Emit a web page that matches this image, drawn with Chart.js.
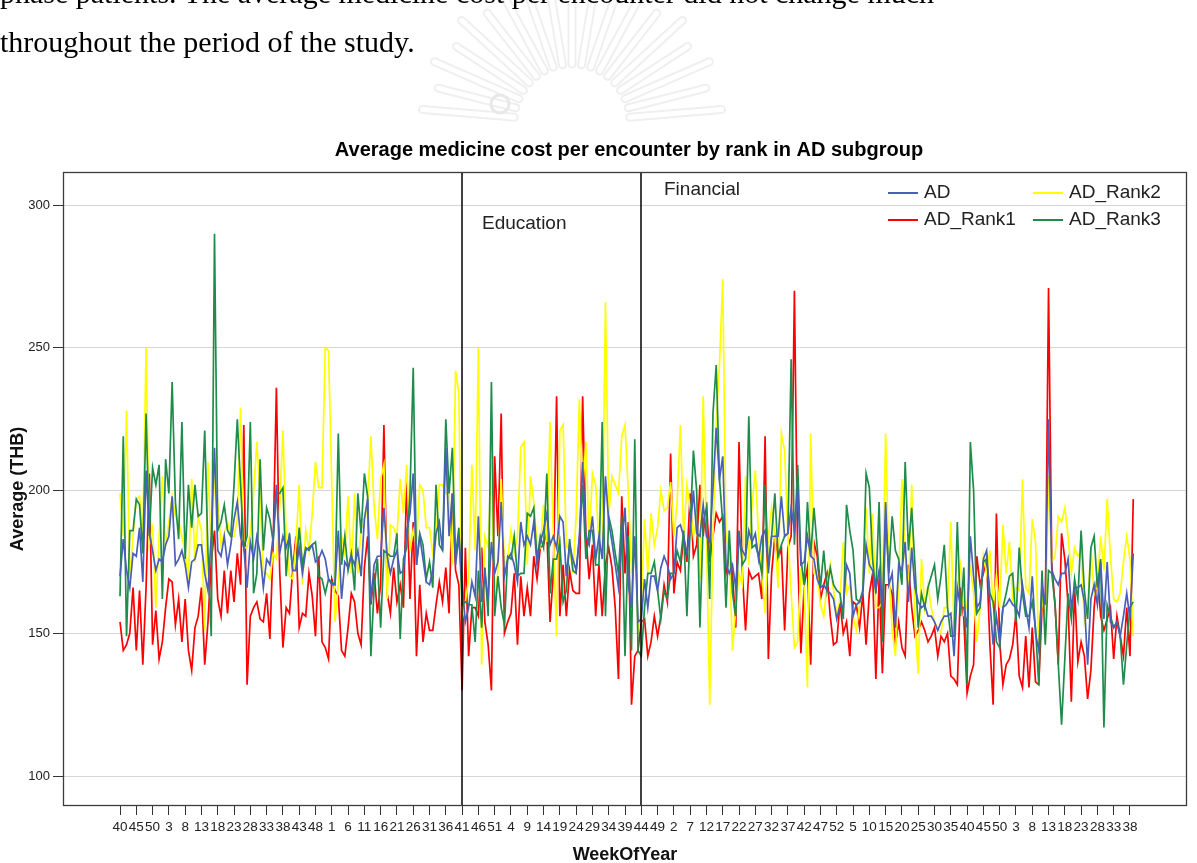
<!DOCTYPE html>
<html>
<head>
<meta charset="utf-8">
<script src="https://cdn.jsdelivr.net/npm/chart.js@4.4.1/dist/chart.umd.min.js"></script>
<style>
  html, body { margin:0; padding:0; background:#fff; width:1197px; height:863px; overflow:hidden; }
  #wrap { position:relative; width:1197px; height:863px; }
  #wm { position:absolute; left:0; top:0; z-index:0; }
  canvas { position:absolute; left:0; top:0; z-index:1; }
  .doc { position:absolute; left:0; z-index:2; font-family:"Liberation Serif","Times New Roman",serif;
         font-size:30px; line-height:30px; color:#000; white-space:nowrap; }
</style>
</head>
<body>
<div id="wrap">
  <svg id="wm" width="1197" height="140" viewBox="0 0 1197 140"></svg>
  <div class="doc" style="top:-22px;">phase patients. The average medicine cost per encounter did not change much</div>
  <div class="doc" style="top:27px;">throughout the period of the study.</div>
  <canvas id="c" width="1197" height="863"></canvas>
</div>
<script>
// ---------------- data ----------------
const tickLabels = [40,45,50,3,8,13,18,23,28,33,38,43,48,1,6,11,16,21,26,31,36,41,46,51,4,9,14,19,24,29,34,39,44,49,2,7,12,17,22,27,32,37,42,47,52,5,10,15,20,25,30,35,40,45,50,3,8,13,18,23,28,33,38];
const yTicks = [100,150,200,250,300];
const seriesNames = ['AD','AD_Rank1','AD_Rank2','AD_Rank3'];

const AD = [
170,183,172,166,178,177,187,168,207,185,179,172,176,175,181,184,198,174,176,179,174,166,175,176,181,181,171,165,184,215,179,177,184,174,181,190,196,184,180,166,182,176,184,178,166,176,174,184,202,178,184,180,
184,172,172,180,171,179,180,181,175,176,179,176,169,167,167,186,162,175,173,177,174,179,170,190,197,161,174,177,177,194,177,171,176,179,171,172,186,192,206,174,184,176,168,167,172,185,189,179,215,184,199,174,
184,167,154,159,168,163,191,161,171,162,182,171,175,196,170,176,178,174,168,189,181,184,181,189,174,182,186,192,181,184,180,191,189,170,181,176,172,184,210,184,181,191,176,184,176,205,189,182,174,166,182,194,167,
159,184,154,155,169,159,170,170,165,173,177,174,169,171,187,188,184,178,186,200,185,184,195,184,182,201,222,204,212,174,171,174,166,184,179,177,186,182,185,176,184,186,174,184,184,184,198,184,185,194,186,201,174,
175,184,177,176,169,166,167,165,164,162,155,160,159,174,171,156,160,161,164,181,174,172,165,172,159,196,167,171,152,174,172,182,161,180,166,161,159,160,156,156,154,151,154,156,156,157,142,166,159,159,152,184,
170,159,161,176,179,161,146,156,147,159,160,162,160,159,156,167,159,152,170,150,144,167,160,225,172,169,167,171,171,176,159,166,166,167,161,139,162,167,160,175,155,175,154,152,154,149,156,164,155,178];

const AD_Rank1 = [
154,144,146,150,166,144,165,139,166,206,146,158,141,147,159,169,168,153,162,147,162,144,137,152,156,166,139,154,175,186,162,156,172,157,172,161,178,167,223,132,156,159,161,155,154,164,148,181,236,172,145,159,
157,172,184,152,157,156,171,163,149,177,147,145,141,169,165,163,144,142,152,164,161,150,146,173,184,160,171,157,167,223,164,157,173,161,167,159,204,162,189,142,167,147,157,151,151,160,168,161,173,157,199,172,
167,130,180,142,159,159,156,180,154,146,130,212,184,227,150,154,157,171,146,170,156,166,156,177,169,180,181,186,154,171,233,156,174,156,172,165,164,164,233,184,169,181,156,174,156,174,180,173,159,134,198,171,189,
125,142,144,154,155,142,147,156,149,156,167,161,213,164,175,172,184,175,199,177,181,202,184,196,175,184,192,189,191,171,177,171,152,217,172,151,172,169,170,171,162,219,141,171,184,176,180,151,180,184,270,177,143,
167,173,139,182,177,162,167,171,156,146,147,161,150,154,142,161,160,152,164,146,164,171,134,169,136,167,167,164,146,154,145,142,174,159,149,151,154,151,147,149,152,142,149,147,150,135,134,132,166,155,129,135,
139,177,167,171,176,146,125,192,147,132,139,141,146,157,135,131,149,131,152,133,132,159,157,271,174,160,139,185,176,160,126,166,140,147,142,127,137,159,171,156,151,155,159,141,156,149,142,159,142,197];

const AD_Rank2 = [
199,184,228,169,184,197,198,184,250,181,187,159,184,205,181,189,198,191,189,184,178,169,204,175,191,186,151,210,177,205,196,181,185,189,184,184,190,229,180,180,185,199,217,198,171,171,169,178,176,194,221,184,
170,169,181,202,167,186,179,192,210,201,201,250,249,202,154,167,184,178,198,171,199,171,187,188,196,219,194,183,204,209,162,188,187,184,204,192,209,179,186,181,202,200,187,187,178,184,202,202,199,199,174,242,
234,155,161,169,209,179,250,139,184,180,210,159,172,204,174,176,186,178,184,215,217,174,205,196,181,180,195,182,224,184,149,221,223,180,181,171,191,232,200,217,182,206,202,182,178,266,191,205,202,199,219,223,200,
171,184,150,159,190,171,192,181,187,200,193,194,203,184,196,223,184,202,194,184,190,169,233,184,125,184,224,244,274,184,179,144,159,171,167,205,174,195,207,184,171,157,184,194,184,166,220,214,184,164,145,147,171,
166,131,220,171,171,160,156,167,174,165,156,162,182,164,167,156,151,160,166,194,171,192,159,159,161,220,172,151,142,167,204,177,164,202,154,136,176,159,167,159,154,152,150,159,159,189,151,166,174,157,160,174,
164,147,159,177,171,179,159,170,159,188,171,182,162,166,165,204,166,164,190,182,146,165,149,205,175,177,191,189,194,184,171,180,177,179,154,159,180,164,167,184,172,197,177,162,161,164,175,184,176,149];

const AD_Rank3 = [
163,219,149,186,186,197,195,178,227,184,208,202,209,162,211,199,238,196,183,224,176,202,187,202,191,192,221,178,149,290,186,189,195,186,184,202,225,202,180,184,224,164,171,211,179,194,190,182,199,199,201,170,
185,172,172,187,174,180,179,181,182,170,169,164,169,168,167,220,174,184,172,178,165,199,185,206,198,142,166,176,152,179,178,177,177,185,148,176,180,199,243,174,185,181,169,175,166,202,181,179,225,199,215,177,
187,160,161,160,160,147,172,152,173,156,238,156,170,159,153,177,176,184,170,171,171,192,191,194,176,184,180,206,164,176,176,182,161,165,183,172,171,183,202,176,186,186,174,174,224,156,191,186,178,171,191,142,184,
144,218,144,142,159,171,171,175,165,155,165,162,171,171,179,175,186,156,187,214,200,152,189,194,162,227,244,204,189,159,186,164,156,186,174,176,226,180,181,177,171,202,171,184,199,177,181,184,185,246,181,209,176,
167,196,177,194,180,166,179,165,173,167,165,164,155,195,186,179,162,161,165,206,201,176,164,196,147,190,171,191,179,176,167,210,179,194,174,152,164,159,166,170,174,162,170,181,159,149,149,189,156,173,132,217,
200,157,159,175,176,164,161,147,145,159,164,170,171,154,180,164,156,156,161,152,132,172,146,172,171,160,139,118,141,164,155,169,162,186,165,155,180,184,166,176,117,160,156,152,154,149,132,146,159,161];

// policy events: position on the week index axis
const eventNames = ['Education','Financial'];
const eventWeekIndex = [105, 160];

// ---------------- styles ----------------
const FONT = '"Liberation Sans", Arial, Helvetica, sans-serif';
const colors = ['#4a5fb8', '#ff0000', '#ffff00', '#1f8c4b'];
const drawOrder = [1, 4, 3, 2];   // higher = drawn first (underneath)
const eventLabelStyle = [{dx: 20, y: 224}, {dx: 23, y: 190}];
const legendSlots = [{x: 888, y: 193}, {x: 888, y: 220}, {x: 1033, y: 193}, {x: 1033, y: 220}];

// watermark (decorative emblem behind the page text)
(function drawWatermark(){
  const svg = document.getElementById('wm');
  const cx = 572, cy = 122;
  let s = '';
  for (let k = 0; k < 19; k++) {
    const ang = Math.PI + (k + 0.5) * Math.PI / 19;
    const r1 = 58, r2 = 150 - (k % 2) * 12;
    const x1 = cx + r1 * Math.cos(ang), y1 = cy + r1 * Math.sin(ang);
    const x2 = cx + r2 * Math.cos(ang), y2 = cy + r2 * Math.sin(ang);
    s += `<line x1="${x1.toFixed(1)}" y1="${y1.toFixed(1)}" x2="${x2.toFixed(1)}" y2="${y2.toFixed(1)}" stroke="#efefef" stroke-width="9" stroke-linecap="round"/>`;
    s += `<line x1="${x1.toFixed(1)}" y1="${y1.toFixed(1)}" x2="${x2.toFixed(1)}" y2="${y2.toFixed(1)}" stroke="#fff" stroke-width="5" stroke-linecap="round"/>`;
  }
  s += `<circle cx="500" cy="104" r="9" fill="none" stroke="#e8e8e8" stroke-width="3"/>`;
  svg.innerHTML = s;
})();

const series = [AD, AD_Rank1, AD_Rank2, AD_Rank3];

const decor = {
  id: 'decor',
  afterDatasetsDraw(chart) {
    const {ctx, chartArea: a, scales: {x}} = chart;
    ctx.save();
    eventWeekIndex.forEach((w, k) => {
      const px = Math.round(x.getPixelForValue(w));
      ctx.strokeStyle = '#000';
      ctx.lineWidth = 1.5;
      ctx.beginPath(); ctx.moveTo(px, a.top); ctx.lineTo(px, a.bottom); ctx.stroke();
      ctx.fillStyle = '#222';
      ctx.font = '19px ' + FONT;
      ctx.textAlign = 'left'; ctx.textBaseline = 'middle';
      ctx.fillText(eventNames[k], px + eventLabelStyle[k].dx, eventLabelStyle[k].y);
    });
    ctx.strokeStyle = '#3c3c3c'; ctx.lineWidth = 1.3;
    ctx.strokeRect(a.left + 0.5, a.top + 0.5, a.right - a.left - 1, a.bottom - a.top - 1);
    ctx.font = '19px ' + FONT;
    ctx.textAlign = 'left'; ctx.textBaseline = 'middle';
    chart.data.datasets.forEach((ds, k) => {
      const s = legendSlots[k];
      ctx.strokeStyle = ds.borderColor; ctx.lineWidth = 2;
      ctx.beginPath(); ctx.moveTo(s.x, s.y); ctx.lineTo(s.x + 30, s.y); ctx.stroke();
      ctx.fillStyle = '#222';
      ctx.fillText(ds.label, s.x + 36, s.y);
    });
    ctx.restore();
  },
  afterDraw(chart) {
    const {ctx, chartArea: a} = chart;
    ctx.save();
    ctx.font = 'bold 20px ' + FONT;
    ctx.fillStyle = '#000';
    ctx.textAlign = 'center'; ctx.textBaseline = 'middle';
    ctx.fillText('Average medicine cost per encounter by rank in AD subgroup', (a.left + a.right) / 2 + 4, 150);
    ctx.restore();
  }
};

new Chart(document.getElementById('c'), {
  type: 'line',
  data: {
    datasets: series.map((vals, k) => ({
      label: seriesNames[k],
      data: vals.map((v, i) => ({x: i, y: v})),
      borderColor: colors[k],
      backgroundColor: colors[k],
      borderWidth: 1.7,
      pointRadius: 0,
      tension: 0,
      fill: false,
      order: drawOrder[k]
    }))
  },
  options: {
    responsive: false,
    animation: false,
    devicePixelRatio: 1,
    layout: { padding: { top: 172, right: 10, bottom: 0, left: 0 } },
    plugins: { legend: { display: false }, title: { display: false }, tooltip: { enabled: false } },
    scales: {
      x: {
        type: 'linear', min: -17.5, max: 327.5,
        afterBuildTicks: s => { s.ticks = tickLabels.map((_, k) => ({ value: k * 5 })); },
        afterFit: s => { s.height = 57; },
        ticks: {
          autoSkip: false, maxRotation: 0, minRotation: 0, padding: 4,
          color: '#222', font: { family: FONT, size: 13.5 },
          callback: (v, idx) => String(tickLabels[idx])
        },
        grid: { drawOnChartArea: false, drawTicks: true, tickLength: 9, color: '#333', tickColor: '#333' },
        border: { display: false },
        title: { display: true, text: 'WeekOfYear', color: '#111',
                 font: { family: FONT, size: 18, weight: 'bold' }, padding: { top: 0, bottom: -3 } }
      },
      y: {
        min: 89.5, max: 311.6,
        afterBuildTicks: s => { s.ticks = yTicks.map(v => ({ value: v })); },
        afterFit: s => { s.width = 63; },
        ticks: { padding: 3, color: '#222', font: { family: FONT, size: 13 } },
        grid: { color: '#d6d6d6', tickColor: '#333', tickLength: 10, drawTicks: true, lineWidth: 1 },
        border: { display: false },
        title: { display: true, text: 'Average (THB)', color: '#111',
                 font: { family: FONT, size: 18, weight: 'bold' }, padding: { top: 7, bottom: 0 } }
      }
    }
  },
  plugins: [decor]
});
</script>
</body>
</html>
